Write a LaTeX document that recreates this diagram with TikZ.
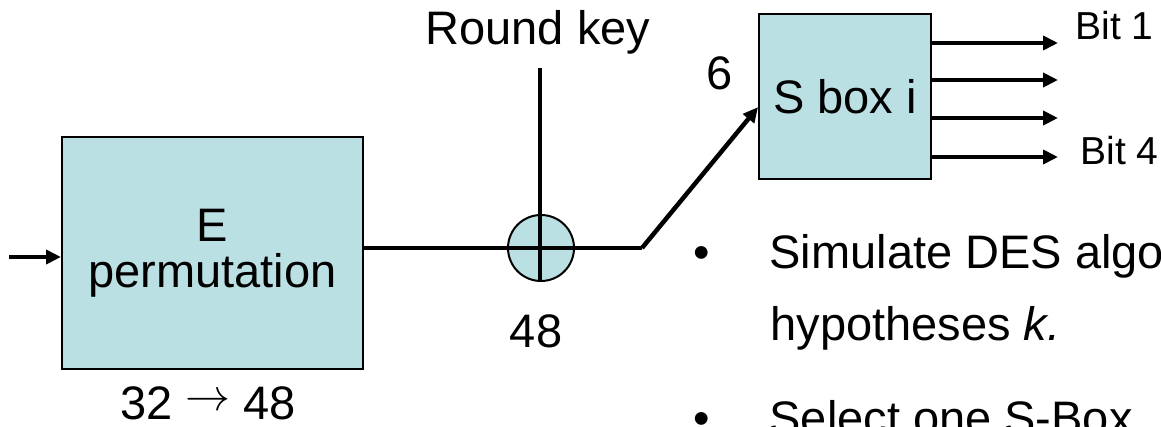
\documentclass[tikz,border=0pt]{standalone}
\usepackage{fontspec}
\setmainfont{Liberation Sans}
\usetikzlibrary{arrows.meta,calc}
\definecolor{boxblue}{RGB}{187,224,227}
\tikzset{
  blk/.style={draw=black,line width=2pt,fill=boxblue,inner sep=0pt},
  wire/.style={line width=4.5pt},
  arr/.style={wire,-{Triangle[length=15pt,width=14pt]}},
  big/.style={font=\fontsize{47}{46}\selectfont},
  small/.style={font=\fontsize{39}{40}\selectfont},
}
\newcommand{\maparrow}{\raisebox{9pt}{\scalebox{4.5}{\fontsize{10}{12}\selectfont$\rightarrow$}}}
\begin{document}
\begin{tikzpicture}[x=1pt,y=-1pt]
  \useasboundingbox (0,0) rectangle (1161,427);
  \clip (0,0) rectangle (1161,427);
  % blocks
  \node[blk,big,minimum width=301pt,minimum height=232pt,align=center] (eperm) at (212.5,253) {E\\permutation};
  \node[blk,big,minimum width=172pt,minimum height=165pt] (sbox) at (845,96.5) {S box i};
  \node[blk,circle,minimum size=66pt] (xor) at (541,248) {};
  % wires
  \coordinate (in) at (9,257);
  \coordinate (bend) at (642,248);
  \coordinate (keytop) at (540,68);
  \draw[arr] (in) -- (eperm.west |- in);
  \draw[wire] (eperm.east |- bend) -- (bend);
  \draw[wire,line width=3.5pt] (keytop) -- (keytop |- xor.south);
  \draw[arr] (bend) -- (sbox.187);
  \foreach \yy [count=\i] in {43,80,118,157}
    \draw[arr] (sbox.east |- 0,\yy) -- (1058,\yy) coordinate (bit\i);
  % labels
  \node[big,anchor=base] (keylbl) at (538,45) {Round key};
  \node[big,anchor=base] (sixlbl) at (720,90) {6};
  \node[big,anchor=base] (widthlbl) at (536,348) {48};
  \node[big,anchor=base] (explbl) at (208,419) {32 \maparrow{} 48};
  \node[small,anchor=base west] (bitone) at (1072,40) {Bit 1};
  \node[small,anchor=base west] (bitfour) at (1077,165) {Bit 4};
  % bullet text
  \node[big,anchor=base] (dotA) at (702,269) {•};
  \node[big,anchor=base west] (lineA) at (766,269) {Simulate DES algo};
  \node[big,anchor=base west] (lineB) at (767,341) {hypotheses \textit{k.}};
  \node[big,anchor=base] (dotB) at (702,434) {•};
  \node[big,anchor=base west] (lineC) at (766,434) {Select one S-Box};
\end{tikzpicture}
\end{document}
